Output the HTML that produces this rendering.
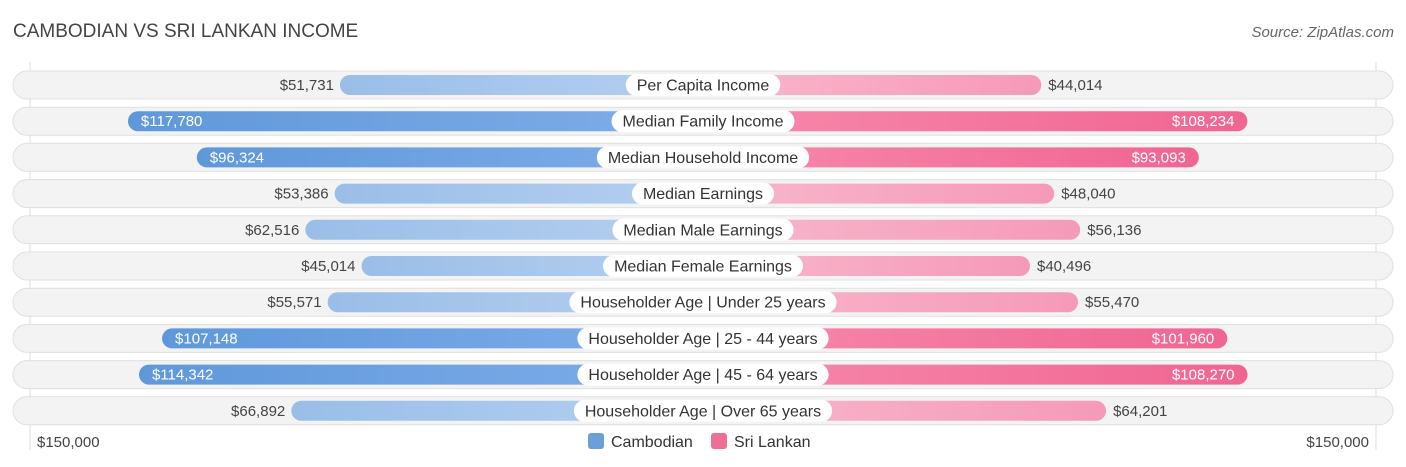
<!DOCTYPE html>
<html><head><meta charset="utf-8"><style>
body{margin:0;width:1406px;height:467px;background:#fff;font-family:"Liberation Sans",sans-serif;overflow:hidden;position:relative}
.t{position:absolute;white-space:nowrap}
</style></head><body>
<div class="t" style="left:13px;top:21px;font-size:19px;color:#444">CAMBODIAN VS SRI LANKAN INCOME</div>
<div class="t" style="right:12px;top:24px;font-size:15px;color:#666;font-style:italic">Source: ZipAtlas.com</div>
<svg id="c" width="1406" height="467" style="position:absolute;left:0;top:0">
<defs>
<linearGradient id="gbd" x1="0" x2="1"><stop offset="0" stop-color="#5f98da"/><stop offset="1" stop-color="#7fadea"/></linearGradient>
<linearGradient id="gbl" x1="0" x2="1"><stop offset="0" stop-color="#9abee8"/><stop offset="1" stop-color="#b5d0f0"/></linearGradient>
<linearGradient id="gpd" x1="0" x2="1"><stop offset="0" stop-color="#f78aac"/><stop offset="1" stop-color="#f06592"/></linearGradient>
<linearGradient id="gpl" x1="0" x2="1"><stop offset="0" stop-color="#f8b8cc"/><stop offset="1" stop-color="#f59ab9"/></linearGradient>
</defs>
</svg>
<div class="t" style="left:37px;top:434px;font-size:15px;color:#444">$150,000</div>
<div class="t" style="right:37px;top:434px;font-size:15px;color:#444">$150,000</div>
<div class="t" style="left:588px;top:433px;font-size:16px;color:#333"><span style="display:inline-block;width:16px;height:16px;background:#6a9fdb;border-radius:3px;vertical-align:-2px;margin-right:7px"></span>Cambodian</div>
<div class="t" style="left:711px;top:433px;font-size:16px;color:#333"><span style="display:inline-block;width:16px;height:16px;background:#f06d96;border-radius:3px;vertical-align:-2px;margin-right:7px"></span>Sri Lankan</div>
<script>
const categories=["Per Capita Income","Median Family Income","Median Household Income","Median Earnings","Median Male Earnings","Median Female Earnings","Householder Age | Under 25 years","Householder Age | 25 - 44 years","Householder Age | 45 - 64 years","Householder Age | Over 65 years"];
const cambodian=[51731,117780,96324,53386,62516,45014,55571,107148,114342,66892];
const sriLankan=[44014,108234,93093,48040,56136,40496,55470,101960,108270,64201];
const svg=document.getElementById('c');const NS='http://www.w3.org/2000/svg';
const cx=703,off=197,k=3.21/1000;
function len(v){return off+v*k;}
function rowY(i){return 85+i*36.2;}
function el(t,a){const e=document.createElementNS(NS,t);for(const x in a)e.setAttribute(x,a[x]);svg.appendChild(e);return e;}
function fmt(v){return '$'+v.toLocaleString('en-US');}
const g1=el('line',{x1:30,x2:30,y1:62,y2:450,stroke:'#ddd'});


const g2=el('line',{x1:1376,x2:1376,y1:62,y2:450,stroke:'#ddd'});


categories.forEach((c,i)=>{
 const y=rowY(i);
 const bg=el('rect',{x:13,y:y-14,width:1380,height:28,rx:14,fill:'#f3f3f3',stroke:'#e0e0e0'});
 
 
 const a=cambodian[i],b=sriLankan[i];
 const la=len(a),lb=len(b);
 const da=a>90000,db=b>90000;
 const r1=el('rect',{x:cx-la,y:y-10,width:la,height:20,rx:10,fill:da?'url(#gbd)':'url(#gbl)'});
 
 
 const r2=el('rect',{x:cx,y:y-10,width:lb,height:20,rx:10,fill:db?'url(#gpd)':'url(#gpl)'});
 
 
 const t1=el('text',{x:da?cx-la+13:cx-la-6,y:y+5,'font-size':15,fill:da?'#fff':'#444','text-anchor':da?'start':'end'});
 t1.textContent=fmt(a);
 
 
 const t2=el('text',{x:db?cx+lb-13:cx+lb+7,y:y+5,'font-size':15,fill:db?'#fff':'#444','text-anchor':db?'end':'start'});
 t2.textContent=fmt(b);
 
 
 const lbl=el('text',{x:cx,y:y+5.5,'font-size':16,fill:'#333','text-anchor':'middle'});
 lbl.textContent=c;
 
 
 const w=lbl.getComputedTextLength()+22;
 const p=el('rect',{x:cx-w/2,y:y-11,width:w,height:22,rx:11,fill:'#fff'});
 
 
 svg.insertBefore(p,lbl);
});
</script>
</body></html>
